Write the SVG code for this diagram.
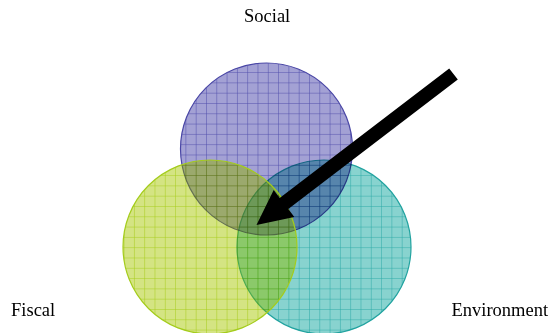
<svg xmlns="http://www.w3.org/2000/svg" width="549" height="333" viewBox="0 0 549 333">
<style>
.lbl{font-family:"Liberation Serif","Times New Roman",serif;font-size:18.5px;fill:#000}
.c{mix-blend-mode:multiply}
</style>
<defs>
<pattern id="pS" patternUnits="userSpaceOnUse" x="0" y="0" width="10.3" height="10.3">
<rect width="10.3" height="10.3" fill="#a3a1d4"/>
<path d="M0 0H10.3M0 0V10.3" stroke="#4f4cab" stroke-width="1"/>
</pattern>
<pattern id="pFm" patternUnits="userSpaceOnUse" x="0" y="0" width="10.3" height="10.3">
<rect width="10.3" height="10.3" fill="#f0f3c9"/>
<path d="M0 0H10.3M0 0V10.3" stroke="#b4d328" stroke-width="1"/>
</pattern>
<pattern id="pFn" patternUnits="userSpaceOnUse" x="0" y="0" width="10.3" height="10.3">
<rect width="10.3" height="10.3" fill="#a0c800"/>
<path d="M0 0H10.3M0 0V10.3" stroke="#8cbe00" stroke-width="1"/>
</pattern>
<pattern id="pE" patternUnits="userSpaceOnUse" x="0" y="0" width="10.3" height="10.3">
<rect width="10.3" height="10.3" fill="#88d3cf"/>
<path d="M0 0H10.3M0 0V10.3" stroke="#2aa9a6" stroke-width="1"/>
</pattern>
</defs>
<rect width="549" height="333" fill="#fff"/>
<g id="social"><circle class="c" cx="266.5" cy="149" r="86" fill="url(#pS)" stroke="#4a47a6" stroke-width="1.2"/></g>
<g id="environment"><circle class="c" cx="324" cy="247" r="87" fill="url(#pE)" stroke="#22a3a0" stroke-width="1.2"/></g>
<g id="fiscal">
<circle class="c" cx="210" cy="247" r="87" fill="url(#pFm)"/>
<circle cx="210" cy="247" r="87" fill="url(#pFn)" opacity="0.35"/>
<circle cx="210" cy="247" r="87" fill="none" stroke="#a4cc1c" stroke-width="1.2"/>
</g>
<g id="connectors">
<polygon points="457.8,79.6 449.2,68.4 279.7,198 273.7,190 256.5,225 294.3,217 288.3,209.1" fill="#000"/>
</g>
<g id="labels">
<text class="lbl" x="244" y="22">Social</text>
<text class="lbl" x="11" y="316">Fiscal</text>
<text class="lbl" x="451.5" y="316">Environment</text>
</g>
</svg>
